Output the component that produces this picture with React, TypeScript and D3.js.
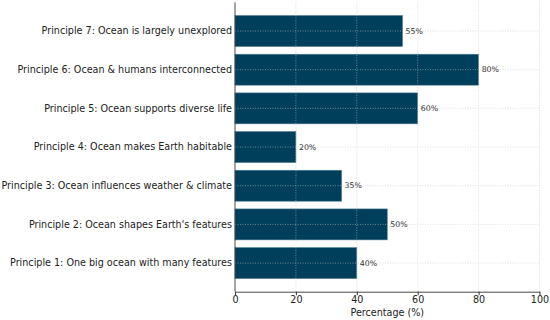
import React, { useEffect, useRef } from 'react';
import * as d3 from 'd3';

const principles = [
  'Principle 1: One big ocean with many features',
  "Principle 2: Ocean shapes Earth's features",
  'Principle 3: Ocean influences weather & climate',
  'Principle 4: Ocean makes Earth habitable',
  'Principle 5: Ocean supports diverse life',
  'Principle 6: Ocean & humans interconnected',
  'Principle 7: Ocean is largely unexplored',
];
const percentages = [40, 50, 35, 20, 60, 80, 55];
const xTicks = [0, 20, 40, 60, 80, 100];

const App: React.FC = () => {
  const svgRef = useRef<SVGSVGElement | null>(null);

  useEffect(() => {
    if (!svgRef.current) return;
    const svg = d3.select(svgRef.current);
    const width = 550;
    const height = 320;
    const margin = { top: 2.4, right: 10.5, bottom: 28.3, left: 235 };
    const font = 'DejaVu Sans, sans-serif';
    const labelSize = 9.6;

    svg.selectAll('*').remove();

    const x = d3.scaleLinear()
      .domain([0, 100])
      .range([margin.left, width - margin.right]);

    // category index -> y, with matplotlib-like margins
    const y = d3.scaleLinear()
      .domain([-0.74, principles.length - 1 + 0.74])
      .range([height - margin.bottom, margin.top]);
    const step = Math.abs(y(1) - y(0));
    const barH = step * 0.8;

    // Bars
    svg.append('g')
      .selectAll('rect')
      .data(percentages)
      .join('rect')
      .attr('x', x(0))
      .attr('y', (_, i) => y(i) - barH / 2)
      .attr('width', d => x(d) - x(0))
      .attr('height', barH)
      .attr('fill', '#003f5c')
      .attr('stroke', '#4d7a92')
      .attr('stroke-width', 0.6);

    // Grid (drawn above bars)
    const grid = svg.append('g')
      .attr('stroke', '#c8c8c8')
      .attr('stroke-width', 0.7)
      .attr('stroke-dasharray', '1,1.5')
      .attr('opacity', 0.8);
    grid.selectAll('line.v')
      .data(xTicks.slice(1))
      .join('line')
      .attr('class', 'v')
      .attr('x1', d => x(d)).attr('x2', d => x(d))
      .attr('y1', margin.top).attr('y2', height - margin.bottom);
    grid.selectAll('line.h')
      .data(principles)
      .join('line')
      .attr('class', 'h')
      .attr('x1', x(0)).attr('x2', x(100))
      .attr('y1', (_, i) => y(i)).attr('y2', (_, i) => y(i));

    // Value labels
    svg.append('g')
      .selectAll('text')
      .data(percentages)
      .join('text')
      .attr('x', d => x(d + 1))
      .attr('y', (_, i) => y(i))
      .attr('dy', '0.35em')
      .attr('font-family', font)
      .attr('font-size', 7.8)
      .attr('fill', '#333')
      .text(d => `${d}%`);

    // X axis
    const xAxis = svg.append('g')
      .attr('transform', `translate(0,${height - margin.bottom})`)
      .call(d3.axisBottom(x).tickValues(xTicks).tickSize(3.5).tickPadding(1.2).tickSizeOuter(0));
    xAxis.select('.domain').attr('stroke', '#333').attr('stroke-width', 0.9);
    xAxis.selectAll('.tick line').attr('stroke', '#333');
    xAxis.selectAll('.tick text')
      .attr('font-family', font)
      .attr('font-size', labelSize)
      .attr('fill', '#222');

    // Y axis: labels only plus spine
    svg.append('line')
      .attr('x1', x(0)).attr('x2', x(0))
      .attr('y1', margin.top).attr('y2', height - margin.bottom)
      .attr('stroke', '#333')
      .attr('stroke-width', 0.9);
    svg.append('g')
      .selectAll('text')
      .data(principles)
      .join('text')
      .attr('x', x(0) - 3)
      .attr('y', (_, i) => y(i))
      .attr('dy', '0.35em')
      .attr('text-anchor', 'end')
      .attr('font-family', font)
      .attr('font-size', labelSize)
      .attr('fill', '#222')
      .text(d => d);

    // X axis title
    svg.append('text')
      .attr('x', x(50))
      .attr('y', 312.5)
      .attr('dy', '0.35em')
      .attr('text-anchor', 'middle')
      .attr('font-family', font)
      .attr('font-size', labelSize)
      .attr('fill', '#222')
      .text('Percentage (%)');
  }, []);

  return (
    <svg
      ref={svgRef}
      width={550}
      height={320}
      style={{ position: 'absolute', top: 0, left: 0, background: '#fff' }}
    />
  );
};

export default App;
